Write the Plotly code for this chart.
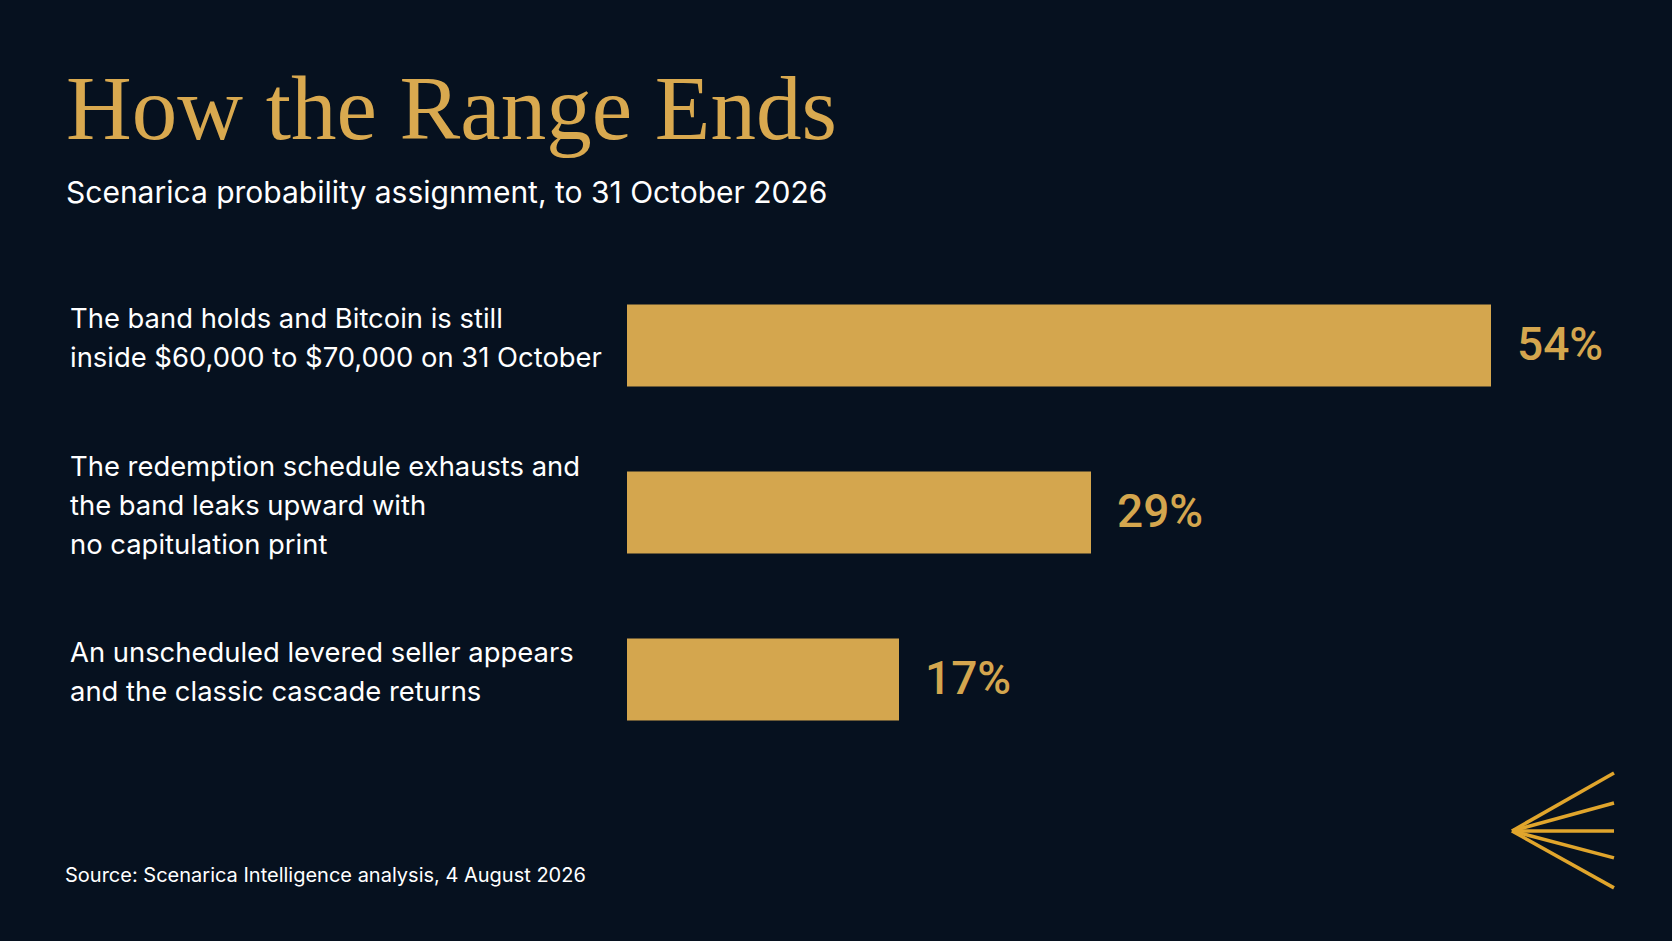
import plotly.graph_objects as go

# scenario probabilities (percent)
scenarios = [
    ["The band holds and Bitcoin is still", "inside $60,000 to $70,000 on 31 October"],
    ["The redemption schedule exhausts and", "the band leaks upward with", "no capitulation print"],
    ["An unscheduled levered seller appears", "and the classic cascade returns"],
]
probs = [54, 29, 17]
value_labels = ["54%", "29%", "17%"]

BG = "#06111f"
GOLD = "#d4a64e"
LOGO = "#e0a52c"
LINE_H = 39  # px between label lines

fig = go.Figure()
fig.add_trace(go.Bar(
    x=probs, y=list(range(len(probs))), orientation="h",
    marker=dict(color=GOLD, line=dict(width=0)),
    width=0.49, hoverinfo="skip",
))

# value labels next to bars
for i, (v, t) in enumerate(zip(probs, value_labels)):
    fig.add_annotation(x=v, y=i, xref="x", yref="y", text=t, showarrow=False,
                       xanchor="left", yanchor="middle", xshift=24, yshift=2,
                       font=dict(family="Roboto", size=46, color=GOLD, weight=500))

# category labels on the left, left aligned, one annotation per line
for i, lines in enumerate(scenarios):
    n = len(lines)
    for k, s in enumerate(lines):
        fig.add_annotation(x=-0.5375, y=i, xref="paper", yref="y", text=s, showarrow=False,
                           xanchor="left", yanchor="middle", align="left",
                           yshift=8 + ((n - 1) / 2 - k) * LINE_H,
                           font=dict(family="Inter", size=27.4, color="#ffffff"))

# title, subtitle, source
fig.add_annotation(x=-0.5413, y=1.201, xref="paper", yref="paper", text="How the Range Ends",
                   showarrow=False, xanchor="left", yanchor="bottom",
                   font=dict(family="Liberation Serif", size=91, color="#d9a94f"))
fig.add_annotation(x=-0.5413, y=1.14, xref="paper", yref="paper",
                   text="Scenarica probability assignment, to 31 October 2026",
                   showarrow=False, xanchor="left", yanchor="middle",
                   font=dict(family="Inter", size=30, color="#ffffff"))
fig.add_annotation(x=-0.5423, y=-0.224, xref="paper", yref="paper",
                   text="Source: Scenarica Intelligence analysis, 4 August 2026",
                   showarrow=False, xanchor="left", yanchor="middle",
                   font=dict(family="Inter", size=20, color="#ffffff"))

# fan logo, bottom right
apex = (1512, 831)
ends = [773, 803, 831, 858, 888]
for ey in ends:
    fig.add_shape(type="line", xref="paper", yref="paper",
                  x0=(apex[0] - 627) / 1040, y0=(763 - apex[1]) / 501.5,
                  x1=(1614 - 627) / 1040, y1=(763 - ey) / 501.5,
                  line=dict(color=LOGO, width=3.5))

fig.update_layout(
    width=1672, height=941,
    paper_bgcolor=BG, plot_bgcolor=BG,
    margin=dict(l=627, r=5, t=262, b=178),
    showlegend=False,
    xaxis=dict(range=[0, 65], visible=False, fixedrange=True),
    yaxis=dict(range=[2.5, -0.5], visible=False, fixedrange=True),
)

fig.write_html("out.html", config={"displayModeBar": False},
               post_script="document.body.style.margin='0';document.body.style.background='%s';" % BG)
